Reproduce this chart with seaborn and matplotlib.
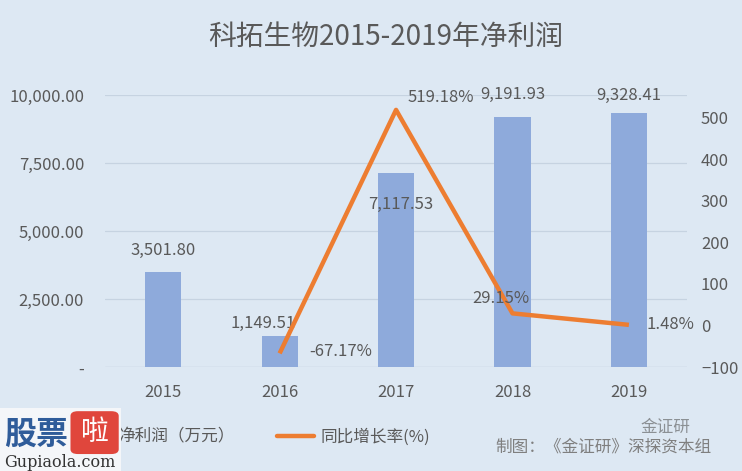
import matplotlib
matplotlib.use("Agg")
import matplotlib.pyplot as plt
from matplotlib.patches import FancyBboxPatch, Rectangle
from matplotlib.lines import Line2D
from matplotlib.patches import Patch
import numpy as np
import pandas as pd
import seaborn as sns

# ---- data ----
years = ["2015", "2016", "2017", "2018", "2019"]
net_profit = [3501.80, 1149.51, 7117.53, 9191.93, 9328.41]
growth = [np.nan, -67.17, 519.18, 29.15, 1.48]
left_ticks = [0, 2500, 5000, 7500, 10000]
left_tick_labels = ["-", "2,500.00", "5,000.00", "7,500.00", "10,000.00"]
right_ticks = [-100, 0, 100, 200, 300, 400, 500]
title = "科拓生物2015-2019年净利润"
legend_bar = "净利润（万元）"
legend_line = "同比增长率(%)"
credit = "制图：《金证研》深探资本组"

BG = "#dde8f3"
BAR = "#8eaadb"
LINE = "#ed7d31"
TXT = "#595959"
GRID = "#c6d3e1"

sns.set_theme(style="white")
plt.rcParams["font.family"] = ["Noto Sans CJK SC", "DejaVu Sans"]

df = pd.DataFrame({"year": years, "profit": net_profit, "growth": growth})
df["pos"] = np.arange(len(years))

fig = plt.figure(figsize=(7.42, 4.71), dpi=100, facecolor=BG)
ax = fig.add_axes([0.1415, 0.2208, 0.7845, 0.5775])
ax.set_facecolor(BG)

sns.barplot(data=df, x="year", y="profit", order=years, color=BAR,
            width=0.31, saturation=1, linewidth=0, edgecolor=BAR,
            ax=ax, zorder=2)
ax.set_ylim(0, 10000)
ax.set_xlim(-0.5, len(years) - 0.5)
ax.set_yticks(left_ticks)
ax.set_yticklabels(left_tick_labels)
ax.yaxis.grid(True, color=GRID, linewidth=0.9, zorder=0)
ax.set_axisbelow(True)
for s in ax.spines.values():
    s.set_visible(False)
ax.axhline(0, color=GRID, linewidth=0.9, zorder=1)
ax.tick_params(axis="y", length=0, pad=15, labelsize=12, labelcolor=TXT)
ax.tick_params(axis="x", length=0, pad=12, labelsize=12, labelcolor=TXT)
ax.set_xlabel("")
ax.set_ylabel("")

ax2 = ax.twinx()
sns.lineplot(data=df, x="pos", y="growth", color=LINE, linewidth=3.2,
             ax=ax2, zorder=3, solid_capstyle="butt")
ax2.set_ylim(-100, 555)
ax2.set_yticks(right_ticks)
ax2.tick_params(axis="y", length=0, pad=10, labelsize=12, labelcolor=TXT)
ax2.set_ylabel("")
ax2.set_xlabel("")
ax2.set_xlim(-0.5, len(years) - 0.5)
for s in ax2.spines.values():
    s.set_visible(False)

# bar value labels (offsets in points)
bar_offsets = [(0, 15), (-12, 9), (3, -22), (0, 16), (0, 13)]
for i, (v, off) in enumerate(zip(net_profit, bar_offsets)):
    ax.annotate(f"{v:,.2f}", (i, v), xytext=off, textcoords="offset points",
                ha="center", va="center", fontsize=12, color=TXT, zorder=5)

line_offsets = [None, (44, 1), (32, 9), (-8, 11), (30, 0)]
for i, (g, off) in enumerate(zip(growth, line_offsets)):
    if off is None or np.isnan(g):
        continue
    ax2.annotate(f"{g:.2f}%", (i, g), xytext=off, textcoords="offset points",
                 ha="center", va="center", fontsize=12, color=TXT, zorder=5)

fig.text(0.52, 0.921, title, ha="center", va="center", fontsize=20,
         color=TXT, fontweight="light")

# legend
handles = [Patch(facecolor=BAR, edgecolor=BAR),
           Line2D([0], [0], color=LINE, linewidth=3.2)]
leg = fig.legend(handles, [legend_bar, legend_line], loc="center left",
                 bbox_to_anchor=(0.08, 0.072), ncol=2, frameon=False,
                 fontsize=12, labelcolor=TXT, handlelength=2.2,
                 columnspacing=2.6, handletextpad=0.4)

fig.text(0.667, 0.051, credit, ha="left", va="center", fontsize=12,
         color="#7f7f7f")

# watermark logo (bottom-left)
fig.patches.append(Rectangle((0, 0), 0.163, 0.133, transform=fig.transFigure,
                             facecolor="#f4f6f9", edgecolor="none", zorder=6))
fig.text(0.006, 0.077, "股票", ha="left", va="center", fontsize=23,
         fontweight="bold", color="#2f5c9a", zorder=7)
fig.patches.append(FancyBboxPatch((0.099, 0.040), 0.057, 0.083,
                                  boxstyle="round,pad=0.004,rounding_size=0.01",
                                  transform=fig.transFigure, facecolor="#e0463c",
                                  edgecolor="none", zorder=7))
fig.text(0.1275, 0.082, "啦", ha="center", va="center", fontsize=20,
         color="white", zorder=8)
fig.text(0.006, 0.018, "Gupiaola.com", ha="left", va="center", fontsize=11.5,
         family="DejaVu Serif", color="#333333", zorder=7)
fig.text(0.93, 0.092, "金证研", ha="right", va="center", fontsize=12,
         color="#555555", alpha=0.6, zorder=7)

fig.savefig("out.png", dpi=100, facecolor=BG)
